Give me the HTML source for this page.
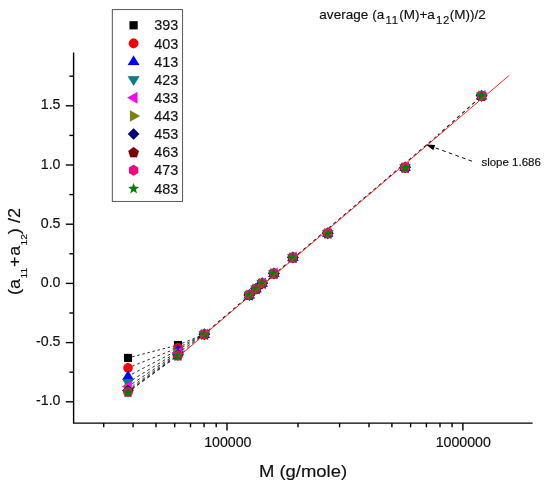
<!DOCTYPE html>
<html><head><meta charset="utf-8"><title>average (a11(M)+a12(M))/2</title>
<style>html,body{margin:0;padding:0;background:#fff}svg{display:block}</style></head>
<body>
<svg width="550" height="488" viewBox="0 0 550 488">
<rect width="550" height="488" fill="#fff"/>
<g stroke="#000" stroke-width="1.4" fill="none">
<path d="M73.6 52.5 V423.1 H532.6"/>
<path d="M65.8 105.8 H73.6"/>
<path d="M65.8 165.0 H73.6"/>
<path d="M65.8 224.2 H73.6"/>
<path d="M65.8 283.4 H73.6"/>
<path d="M65.8 342.6 H73.6"/>
<path d="M65.8 401.8 H73.6"/>
<path d="M69.4 76.2 H73.6"/>
<path d="M69.4 135.4 H73.6"/>
<path d="M69.4 194.6 H73.6"/>
<path d="M69.4 253.8 H73.6"/>
<path d="M69.4 313.0 H73.6"/>
<path d="M69.4 372.2 H73.6"/>
<path d="M227.0 423.1 V430.6"/>
<path d="M462.9 423.1 V430.6"/>
<path d="M103.7 423.1 V427.3"/>
<path d="M133.1 423.1 V427.3"/>
<path d="M156.0 423.1 V427.3"/>
<path d="M174.7 423.1 V427.3"/>
<path d="M190.5 423.1 V427.3"/>
<path d="M204.1 423.1 V427.3"/>
<path d="M216.2 423.1 V427.3"/>
<path d="M298.0 423.1 V427.3"/>
<path d="M339.6 423.1 V427.3"/>
<path d="M369.0 423.1 V427.3"/>
<path d="M391.9 423.1 V427.3"/>
<path d="M410.6 423.1 V427.3"/>
<path d="M426.4 423.1 V427.3"/>
<path d="M440.0 423.1 V427.3"/>
<path d="M452.1 423.1 V427.3"/>
</g>
<g font-family="'Liberation Sans', Arial, sans-serif" fill="#111" stroke="#111" stroke-width="0.16">
<text x="60.5" y="109.4" font-size="14.2" text-anchor="end">1.5</text>
<text x="60.5" y="168.6" font-size="14.2" text-anchor="end">1.0</text>
<text x="60.5" y="227.8" font-size="14.2" text-anchor="end">0.5</text>
<text x="60.5" y="287.0" font-size="14.2" text-anchor="end">0.0</text>
<text x="60.5" y="346.2" font-size="14.2" text-anchor="end">-0.5</text>
<text x="60.5" y="405.4" font-size="14.2" text-anchor="end">-1.0</text>
<text x="227.8" y="447.3" font-size="14.2" text-anchor="middle">100000</text>
<text x="463.3" y="447.3" font-size="14.2" text-anchor="middle">1000000</text>
<text x="258.9" y="476.5" font-size="16.6" textLength="88.2" lengthAdjust="spacingAndGlyphs">M (g/mole)</text>
<g transform="translate(19.9 295.1) rotate(-90) scale(1.047 1)" font-size="17.2"><text x="0.00" y="0">(a</text><text x="15.95" y="7.3" font-size="9.8">11</text><text x="26.74" y="0">+</text><text x="37.49" y="0">a</text><text x="47.47" y="7.3" font-size="9.8">12</text><text x="58.07" y="0">)</text><text x="68.96" y="0">/2</text></g>
<g font-size="13.5"><text x="319.3" y="18.6" textLength="65.0">average (a</text><text x="385.5" y="23.9" font-size="11.3" textLength="12.6">11</text><text x="399.2" y="18.6">(M)+a</text><text x="436.0" y="23.9" font-size="11.3" textLength="13.2">12</text><text x="449.8" y="18.6">(M))/2</text></g>
<text x="481.4" y="166.1" font-size="11.5">slope 1.686</text>
</g>
<g stroke="#111" fill="none">
<line x1="128.0" y1="357.9" x2="178.0" y2="345.0" stroke-width="0.90" stroke-dasharray="2.48 2.76" stroke-dashoffset="0.93"/>
<line x1="178.0" y1="345.0" x2="204.0" y2="334.3" stroke-width="0.85" stroke-dasharray="2.60 2.89" stroke-dashoffset="0.97"/>
<line x1="203.8" y1="334.3" x2="438.0" y2="135.2" stroke-width="1.05" stroke-dasharray="3.28 3.31" stroke-dashoffset="1.18"/>
<line x1="438.0" y1="135.2" x2="481.0" y2="96.5" stroke-width="1.05" stroke-dasharray="3.36 3.39" stroke-dashoffset="1.21"/>
</g>
<rect x="123.95" y="353.85" width="8.10" height="8.10" fill="#000000"/>
<rect x="173.95" y="340.95" width="8.10" height="8.10" fill="#000000"/>
<rect x="200.25" y="330.25" width="8.10" height="8.10" fill="#000000"/>
<rect x="245.25" y="290.95" width="8.10" height="8.10" fill="#000000"/>
<rect x="251.95" y="284.75" width="8.10" height="8.10" fill="#000000"/>
<rect x="258.15" y="279.15" width="8.10" height="8.10" fill="#000000"/>
<rect x="269.85" y="269.35" width="8.10" height="8.10" fill="#000000"/>
<rect x="288.85" y="253.35" width="8.10" height="8.10" fill="#000000"/>
<rect x="323.65" y="229.15" width="8.10" height="8.10" fill="#000000"/>
<rect x="401.05" y="163.35" width="8.10" height="8.10" fill="#000000"/>
<rect x="477.55" y="91.75" width="8.10" height="8.10" fill="#000000"/>
<g stroke="#111" fill="none">
<line x1="128.0" y1="367.9" x2="178.0" y2="347.8" stroke-width="0.90" stroke-dasharray="2.59 2.88" stroke-dashoffset="0.97"/>
<line x1="178.0" y1="347.8" x2="204.0" y2="334.3" stroke-width="0.85" stroke-dasharray="2.70 3.01" stroke-dashoffset="1.01"/>
</g>
<circle cx="128.00" cy="367.90" r="4.80" fill="#FF0000"/>
<circle cx="178.00" cy="347.80" r="4.80" fill="#FF0000"/>
<circle cx="204.30" cy="334.30" r="4.80" fill="#FF0000"/>
<circle cx="249.30" cy="295.00" r="4.80" fill="#FF0000"/>
<circle cx="256.00" cy="288.80" r="4.80" fill="#FF0000"/>
<circle cx="262.20" cy="283.20" r="4.80" fill="#FF0000"/>
<circle cx="273.90" cy="273.40" r="4.80" fill="#FF0000"/>
<circle cx="292.90" cy="257.40" r="4.80" fill="#FF0000"/>
<circle cx="327.70" cy="233.20" r="4.80" fill="#FF0000"/>
<circle cx="405.10" cy="167.40" r="4.80" fill="#FF0000"/>
<circle cx="481.60" cy="95.80" r="4.80" fill="#FF0000"/>
<g stroke="#111" fill="none">
<line x1="128.0" y1="376.2" x2="178.0" y2="350.0" stroke-width="0.90" stroke-dasharray="2.71 3.01" stroke-dashoffset="1.02"/>
<line x1="178.0" y1="350.0" x2="204.0" y2="334.3" stroke-width="0.85" stroke-dasharray="2.80 3.12" stroke-dashoffset="1.05"/>
</g>
<polygon points="128.00,370.20 133.80,379.80 122.20,379.80" fill="#0000FF"/>
<polygon points="178.00,344.00 183.80,353.60 172.20,353.60" fill="#0000FF"/>
<polygon points="204.30,328.30 210.10,337.90 198.50,337.90" fill="#0000FF"/>
<polygon points="249.30,289.00 255.10,298.60 243.50,298.60" fill="#0000FF"/>
<polygon points="256.00,282.80 261.80,292.40 250.20,292.40" fill="#0000FF"/>
<polygon points="262.20,277.20 268.00,286.80 256.40,286.80" fill="#0000FF"/>
<polygon points="273.90,267.40 279.70,277.00 268.10,277.00" fill="#0000FF"/>
<polygon points="292.90,251.40 298.70,261.00 287.10,261.00" fill="#0000FF"/>
<polygon points="327.70,227.20 333.50,236.80 321.90,236.80" fill="#0000FF"/>
<polygon points="405.10,161.40 410.90,171.00 399.30,171.00" fill="#0000FF"/>
<polygon points="481.60,89.80 487.40,99.40 475.80,99.40" fill="#0000FF"/>
<g stroke="#111" fill="none">
<line x1="128.0" y1="382.5" x2="178.0" y2="351.7" stroke-width="0.90" stroke-dasharray="2.82 3.14" stroke-dashoffset="1.06"/>
</g>
<polygon points="128.00,388.70 133.80,379.20 122.20,379.20" fill="#008080"/>
<polygon points="178.00,357.90 183.80,348.40 172.20,348.40" fill="#008080"/>
<polygon points="204.30,340.50 210.10,331.00 198.50,331.00" fill="#008080"/>
<polygon points="249.30,301.20 255.10,291.70 243.50,291.70" fill="#008080"/>
<polygon points="256.00,295.00 261.80,285.50 250.20,285.50" fill="#008080"/>
<polygon points="262.20,289.40 268.00,279.90 256.40,279.90" fill="#008080"/>
<polygon points="273.90,279.60 279.70,270.10 268.10,270.10" fill="#008080"/>
<polygon points="292.90,263.60 298.70,254.10 287.10,254.10" fill="#008080"/>
<polygon points="327.70,239.40 333.50,229.90 321.90,229.90" fill="#008080"/>
<polygon points="405.10,173.60 410.90,164.10 399.30,164.10" fill="#008080"/>
<polygon points="481.60,102.00 487.40,92.50 475.80,92.50" fill="#008080"/>
<g stroke="#111" fill="none">
<line x1="128.0" y1="386.5" x2="178.0" y2="353.0" stroke-width="0.90" stroke-dasharray="2.89 3.21" stroke-dashoffset="1.08"/>
<line x1="178.0" y1="353.0" x2="204.0" y2="334.3" stroke-width="0.85" stroke-dasharray="2.96 3.29" stroke-dashoffset="1.11"/>
</g>
<polygon points="121.80,386.50 131.80,380.70 131.80,392.30" fill="#FF00FF"/>
<polygon points="171.80,353.00 181.80,347.20 181.80,358.80" fill="#FF00FF"/>
<polygon points="198.10,334.30 208.10,328.50 208.10,340.10" fill="#FF00FF"/>
<polygon points="243.10,295.00 253.10,289.20 253.10,300.80" fill="#FF00FF"/>
<polygon points="249.80,288.80 259.80,283.00 259.80,294.60" fill="#FF00FF"/>
<polygon points="256.00,283.20 266.00,277.40 266.00,289.00" fill="#FF00FF"/>
<polygon points="267.70,273.40 277.70,267.60 277.70,279.20" fill="#FF00FF"/>
<polygon points="286.70,257.40 296.70,251.60 296.70,263.20" fill="#FF00FF"/>
<polygon points="321.50,233.20 331.50,227.40 331.50,239.00" fill="#FF00FF"/>
<polygon points="398.90,167.40 408.90,161.60 408.90,173.20" fill="#FF00FF"/>
<polygon points="475.40,95.80 485.40,90.00 485.40,101.60" fill="#FF00FF"/>
<g stroke="#111" fill="none">
<line x1="128.0" y1="389.0" x2="178.0" y2="354.0" stroke-width="0.70" stroke-dasharray="2.93 3.26" stroke-dashoffset="1.10"/>
</g>
<polygon points="134.30,389.00 124.50,383.50 124.50,394.50" fill="#808000"/>
<polygon points="184.30,354.00 174.50,348.50 174.50,359.50" fill="#808000"/>
<polygon points="210.60,334.30 200.80,328.80 200.80,339.80" fill="#808000"/>
<polygon points="255.60,295.00 245.80,289.50 245.80,300.50" fill="#808000"/>
<polygon points="262.30,288.80 252.50,283.30 252.50,294.30" fill="#808000"/>
<polygon points="268.50,283.20 258.70,277.70 258.70,288.70" fill="#808000"/>
<polygon points="280.20,273.40 270.40,267.90 270.40,278.90" fill="#808000"/>
<polygon points="299.20,257.40 289.40,251.90 289.40,262.90" fill="#808000"/>
<polygon points="334.00,233.20 324.20,227.70 324.20,238.70" fill="#808000"/>
<polygon points="411.40,167.40 401.60,161.90 401.60,172.90" fill="#808000"/>
<polygon points="487.90,95.80 478.10,90.30 478.10,101.30" fill="#808000"/>
<g stroke="#111" fill="none">
<line x1="128.0" y1="390.5" x2="178.0" y2="354.7" stroke-width="0.70" stroke-dasharray="2.95 3.28" stroke-dashoffset="1.11"/>
</g>
<polygon points="128.00,384.70 133.80,390.50 128.00,396.30 122.20,390.50" fill="#000080"/>
<polygon points="178.00,348.90 183.80,354.70 178.00,360.50 172.20,354.70" fill="#000080"/>
<polygon points="204.30,328.50 210.10,334.30 204.30,340.10 198.50,334.30" fill="#000080"/>
<polygon points="249.30,289.20 255.10,295.00 249.30,300.80 243.50,295.00" fill="#000080"/>
<polygon points="256.00,283.00 261.80,288.80 256.00,294.60 250.20,288.80" fill="#000080"/>
<polygon points="262.20,277.40 268.00,283.20 262.20,289.00 256.40,283.20" fill="#000080"/>
<polygon points="273.90,267.60 279.70,273.40 273.90,279.20 268.10,273.40" fill="#000080"/>
<polygon points="292.90,251.60 298.70,257.40 292.90,263.20 287.10,257.40" fill="#000080"/>
<polygon points="327.70,227.40 333.50,233.20 327.70,239.00 321.90,233.20" fill="#000080"/>
<polygon points="405.10,161.60 410.90,167.40 405.10,173.20 399.30,167.40" fill="#000080"/>
<polygon points="481.60,90.00 487.40,95.80 481.60,101.60 475.80,95.80" fill="#000080"/>
<g stroke="#111" fill="none">
<line x1="128.0" y1="391.4" x2="178.0" y2="355.2" stroke-width="0.70" stroke-dasharray="2.96 3.30" stroke-dashoffset="1.11"/>
</g>
<polygon points="128.00,386.30 133.33,390.17 131.29,396.43 124.71,396.43 122.67,390.17" fill="#800000"/>
<polygon points="178.00,350.10 183.33,353.97 181.29,360.23 174.71,360.23 172.67,353.97" fill="#800000"/>
<polygon points="204.30,329.20 209.63,333.07 207.59,339.33 201.01,339.33 198.97,333.07" fill="#800000"/>
<polygon points="249.30,289.90 254.63,293.77 252.59,300.03 246.01,300.03 243.97,293.77" fill="#800000"/>
<polygon points="256.00,283.70 261.33,287.57 259.29,293.83 252.71,293.83 250.67,287.57" fill="#800000"/>
<polygon points="262.20,278.10 267.53,281.97 265.49,288.23 258.91,288.23 256.87,281.97" fill="#800000"/>
<polygon points="273.90,268.30 279.23,272.17 277.19,278.43 270.61,278.43 268.57,272.17" fill="#800000"/>
<polygon points="292.90,252.30 298.23,256.17 296.19,262.43 289.61,262.43 287.57,256.17" fill="#800000"/>
<polygon points="327.70,228.10 333.03,231.97 330.99,238.23 324.41,238.23 322.37,231.97" fill="#800000"/>
<polygon points="405.10,162.30 410.43,166.17 408.39,172.43 401.81,172.43 399.77,166.17" fill="#800000"/>
<polygon points="481.60,90.70 486.93,94.57 484.89,100.83 478.31,100.83 476.27,94.57" fill="#800000"/>
<g stroke="#111" fill="none">
<line x1="128.0" y1="391.9" x2="178.0" y2="355.5" stroke-width="0.70" stroke-dasharray="2.97 3.30" stroke-dashoffset="1.11"/>
</g>
<polygon points="128.00,386.62 132.39,389.26 132.39,394.54 128.00,397.18 123.61,394.54 123.61,389.26" fill="#FF0080"/>
<polygon points="178.00,350.22 182.39,352.86 182.39,358.14 178.00,360.78 173.61,358.14 173.61,352.86" fill="#FF0080"/>
<polygon points="204.30,329.02 208.69,331.66 208.69,336.94 204.30,339.58 199.91,336.94 199.91,331.66" fill="#FF0080"/>
<polygon points="249.30,289.72 253.69,292.36 253.69,297.64 249.30,300.28 244.91,297.64 244.91,292.36" fill="#FF0080"/>
<polygon points="256.00,283.52 260.39,286.16 260.39,291.44 256.00,294.08 251.61,291.44 251.61,286.16" fill="#FF0080"/>
<polygon points="262.20,277.92 266.59,280.56 266.59,285.84 262.20,288.48 257.81,285.84 257.81,280.56" fill="#FF0080"/>
<polygon points="273.90,268.12 278.29,270.76 278.29,276.04 273.90,278.68 269.51,276.04 269.51,270.76" fill="#FF0080"/>
<polygon points="292.90,252.12 297.29,254.76 297.29,260.04 292.90,262.68 288.51,260.04 288.51,254.76" fill="#FF0080"/>
<polygon points="327.70,227.92 332.09,230.56 332.09,235.84 327.70,238.48 323.31,235.84 323.31,230.56" fill="#FF0080"/>
<polygon points="405.10,162.12 409.49,164.76 409.49,170.04 405.10,172.68 400.71,170.04 400.71,164.76" fill="#FF0080"/>
<polygon points="481.60,90.52 485.99,93.16 485.99,98.44 481.60,101.08 477.21,98.44 477.21,93.16" fill="#FF0080"/>
<g stroke="#111" fill="none">
<line x1="128.0" y1="392.2" x2="178.0" y2="355.7" stroke-width="0.70" stroke-dasharray="2.97 3.31" stroke-dashoffset="1.11"/>
<line x1="178.0" y1="355.7" x2="204.0" y2="334.3" stroke-width="0.85" stroke-dasharray="3.11 3.46" stroke-dashoffset="1.17"/>
</g>
<polygon points="128.00,386.43 129.51,390.45 133.81,390.65 130.45,393.33 131.59,397.47 128.00,395.11 124.41,397.47 125.55,393.33 122.19,390.65 126.49,390.45" fill="#008000"/>
<polygon points="178.00,349.93 179.51,353.95 183.81,354.15 180.45,356.83 181.59,360.97 178.00,358.61 174.41,360.97 175.55,356.83 172.19,354.15 176.49,353.95" fill="#008000"/>
<polygon points="204.30,328.53 205.81,332.55 210.11,332.75 206.75,335.43 207.89,339.57 204.30,337.21 200.71,339.57 201.85,335.43 198.49,332.75 202.79,332.55" fill="#008000"/>
<polygon points="249.30,289.23 250.81,293.25 255.11,293.45 251.75,296.13 252.89,300.27 249.30,297.91 245.71,300.27 246.85,296.13 243.49,293.45 247.79,293.25" fill="#008000"/>
<polygon points="256.00,283.03 257.51,287.05 261.81,287.25 258.45,289.93 259.59,294.07 256.00,291.71 252.41,294.07 253.55,289.93 250.19,287.25 254.49,287.05" fill="#008000"/>
<polygon points="262.20,277.43 263.71,281.45 268.01,281.65 264.65,284.33 265.79,288.47 262.20,286.11 258.61,288.47 259.75,284.33 256.39,281.65 260.69,281.45" fill="#008000"/>
<polygon points="273.90,267.63 275.41,271.65 279.71,271.85 276.35,274.53 277.49,278.67 273.90,276.31 270.31,278.67 271.45,274.53 268.09,271.85 272.39,271.65" fill="#008000"/>
<polygon points="292.90,251.63 294.41,255.65 298.71,255.85 295.35,258.53 296.49,262.67 292.90,260.31 289.31,262.67 290.45,258.53 287.09,255.85 291.39,255.65" fill="#008000"/>
<polygon points="327.70,227.43 329.21,231.45 333.51,231.65 330.15,234.33 331.29,238.47 327.70,236.11 324.11,238.47 325.25,234.33 321.89,231.65 326.19,231.45" fill="#008000"/>
<polygon points="405.10,161.63 406.61,165.65 410.91,165.85 407.55,168.53 408.69,172.67 405.10,170.31 401.51,172.67 402.65,168.53 399.29,165.85 403.59,165.65" fill="#008000"/>
<polygon points="481.60,90.03 483.11,94.05 487.41,94.25 484.05,96.93 485.19,101.07 481.60,98.71 478.01,101.07 479.15,96.93 475.79,94.25 480.09,94.05" fill="#008000"/>
<line x1="178.0" y1="357.1" x2="509.2" y2="75.4" stroke="#FF2828" stroke-width="1.0"/>
<line x1="472.0" y1="161.2" x2="433.5" y2="147.2" stroke="#111" stroke-width="1" stroke-dasharray="3.7 3.3"/>
<polygon points="425.8,144.5 435.2,145.0 433.3,150.2" fill="#000"/>
<rect x="112.3" y="9.6" width="70.3" height="191.8" fill="#fff" stroke="#444" stroke-width="0.9"/>
<g font-family="'Liberation Sans', Arial, sans-serif" fill="#111" stroke="#111" stroke-width="0.16" font-size="14.4">
<rect x="129.55" y="21.20" width="8.10" height="8.10" fill="#000000"/>
<text x="154.2" y="30.4">393</text>
<circle cx="133.60" cy="43.38" r="4.80" fill="#FF0000"/>
<text x="154.2" y="48.5">403</text>
<polygon points="133.60,55.51 139.40,65.11 127.80,65.11" fill="#0000FF"/>
<text x="154.2" y="66.6">413</text>
<polygon points="133.60,85.84 139.40,76.34 127.80,76.34" fill="#008080"/>
<text x="154.2" y="84.7">423</text>
<polygon points="127.40,97.77 137.40,91.97 137.40,103.57" fill="#FF00FF"/>
<text x="154.2" y="102.9">433</text>
<polygon points="139.90,115.90 130.10,110.40 130.10,121.40" fill="#808000"/>
<text x="154.2" y="121.0">443</text>
<polygon points="133.60,128.23 139.40,134.03 133.60,139.83 127.80,134.03" fill="#000080"/>
<text x="154.2" y="139.1">453</text>
<polygon points="133.60,147.06 138.93,150.93 136.89,157.19 130.31,157.19 128.27,150.93" fill="#800000"/>
<text x="154.2" y="157.3">463</text>
<polygon points="133.60,164.79 138.17,167.54 138.17,173.04 133.60,175.79 129.03,173.04 129.03,167.54" fill="#FF0080"/>
<text x="154.2" y="175.4">473</text>
<polygon points="133.60,183.27 134.95,186.86 138.78,187.04 135.79,189.43 136.80,193.13 133.60,191.02 130.40,193.13 131.41,189.43 128.42,187.04 132.25,186.86" fill="#008000"/>
<text x="154.2" y="193.5">483</text>
</g>
</svg>
</body></html>
